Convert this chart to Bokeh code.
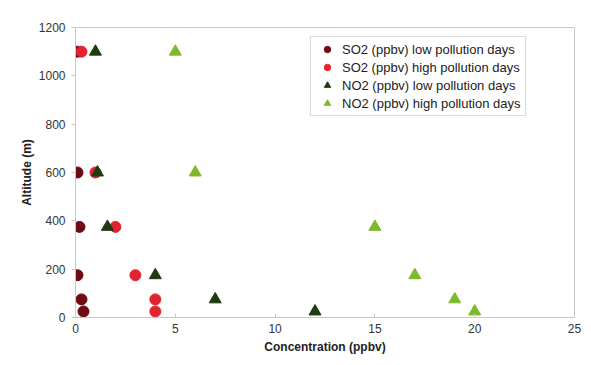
from bokeh.plotting import figure
from bokeh.embed import file_html
from bokeh.resources import INLINE
from bokeh.models import Legend, LegendItem, FixedTicker, Range1d

altitude = [1100, 600, 375, 175, 75, 25]
so2_low = [0.1, 0.1, 0.2, 0.1, 0.3, 0.4]
so2_high = [0.3, 1.0, 2.0, 3.0, 4.0, 4.0]
no2_low = [1.0, 1.1, 1.6, 4.0, 7.0, 12.0]
no2_high = [5.0, 6.0, 15.0, 17.0, 19.0, 20.0]

labels = ["SO2 (ppbv) low pollution days", "SO2 (ppbv) high pollution days",
          "NO2 (ppbv) low pollution days", "NO2 (ppbv) high pollution days"]
x_ticks = [0, 5, 10, 15, 20, 25]
y_ticks = [0, 200, 400, 600, 800, 1000, 1200]

FONT = "Liberation Sans"

p = figure(width=583, height=357, output_backend="svg", toolbar_location=None,
           x_range=Range1d(0, 25), y_range=Range1d(0, 1200),
           min_border_left=75, min_border_right=9, min_border_top=27, min_border_bottom=40)
p.background_fill_color = "white"
p.border_fill_color = "white"
p.outline_line_color = "#c8c8c8"
p.grid.visible = False

r1 = p.scatter(so2_low, altitude, marker="circle", size=11, fill_color="#6e0a14", line_color="#6e0a14")
r2 = p.scatter(so2_high, altitude, marker="circle", size=11, fill_color="#e0242f", line_color="#e0242f")
r3 = p.scatter(no2_low, altitude, marker="triangle", size=12, fill_color="#1f3b10", line_color="#1f3b10")
r4 = p.scatter(no2_high, altitude, marker="triangle", size=12, fill_color="#7cba2a", line_color="#7cba2a")

for ax in (p.xaxis[0], p.yaxis[0]):
    ax.axis_line_color = "#c8c8c8"
    ax.major_tick_line_color = "#c8c8c8"
    ax.minor_tick_line_color = None
    ax.major_label_text_font = FONT
    ax.major_label_text_font_size = "12px"
    ax.major_label_text_color = "#333333"
    ax.axis_label_text_font = FONT
    ax.axis_label_text_font_size = "12px"
    ax.axis_label_text_font_style = "bold"
    ax.axis_label_text_color = "#222222"

p.xaxis.ticker = FixedTicker(ticks=x_ticks)
p.yaxis.ticker = FixedTicker(ticks=y_ticks)
p.xaxis.axis_label = "Concentration (ppbv)"
p.yaxis.axis_label = "Altitude (m)"
p.xaxis.major_tick_in = 4
p.xaxis.major_tick_out = 0
p.yaxis.major_tick_in = 0
p.yaxis.major_tick_out = 4
p.xaxis.major_label_standoff = 6
p.yaxis.major_label_standoff = 6
p.xaxis.axis_label_standoff = 4
p.yaxis.axis_label_standoff = 2

legend = Legend(items=[LegendItem(label=labels[0], renderers=[r1]),
                       LegendItem(label=labels[1], renderers=[r2]),
                       LegendItem(label=labels[2], renderers=[r3]),
                       LegendItem(label=labels[3], renderers=[r4])])
legend.margin = 0
legend.padding = 4
legend.spacing = 2
legend.label_height = 16
legend.glyph_height = 16
legend.glyph_width = 24
legend.label_standoff = 3
legend.label_text_font = FONT
legend.label_text_font_size = "13px"
legend.label_text_color = "#222222"
legend.border_line_color = "#b4b4b4"
legend.background_fill_alpha = 1
p.add_layout(legend, "center")
legend.location = (235, 201)

open("out.html", "w").write(file_html(p, INLINE))
